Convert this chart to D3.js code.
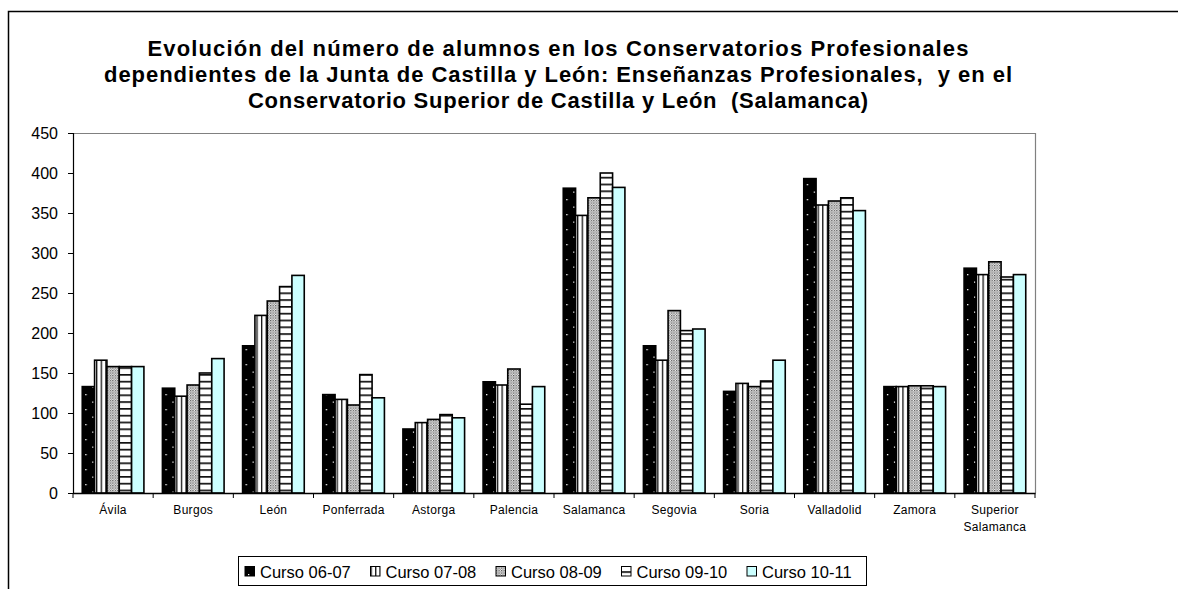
<!DOCTYPE html>
<html>
<head>
<meta charset="utf-8">
<script src="https://cdn.jsdelivr.net/npm/d3@7"></script>
<style>
  body { margin: 0; background: #fff; }
  svg { display: block; font-family: "Liberation Sans", Arial, sans-serif; }
</style>
</head>
<body>
<script>
// data
const categories = ["Ávila", "Burgos", "León", "Ponferrada", "Astorga", "Palencia",
  "Salamanca", "Segovia", "Soria", "Valladolid", "Zamora", "Superior Salamanca"];
const series = ["Curso 06-07", "Curso 07-08", "Curso 08-09", "Curso 09-10", "Curso 10-11"];
const curso0607 = [133, 131, 184, 123, 80, 139, 381, 184, 127, 393, 133, 281];
const curso0708 = [166, 121, 222, 117, 88, 135, 347, 166, 137, 360, 133, 273];
const curso0809 = [158, 135, 240, 110, 92, 155, 369, 228, 133, 365, 134, 289];
const curso0910 = [158, 150, 258, 148, 98, 111, 400, 203, 140, 369, 134, 270];
const curso1011 = [158, 168, 272, 119, 94, 133, 382, 205, 166, 353, 133, 273];
const yTicks = [0, 50, 100, 150, 200, 250, 300, 350, 400, 450];
const titleLines = [
  "Evolución del número de alumnos en los Conservatorios Profesionales",
  "dependientes de la Junta de Castilla y León: Enseñanzas Profesionales,  y en el",
  "Conservatorio Superior de Castilla y León  (Salamanca)"
];

const values = [curso0607, curso0708, curso0809, curso0910, curso1011];
const fills = ["url(#p0607)", "url(#p0708)", "url(#p0809)", "url(#p0910)", "#ccffff"];

const width = 1178, height = 589;
const plotL = 73, plotR = 1035, plotT = 133, plotB = 493;

const svg = d3.select("body").append("svg")
  .attr("width", width)
  .attr("height", height);

// patterns
const defs = svg.append("defs");

let p = defs.append("pattern").attr("id", "p0607")
  .attr("patternUnits", "userSpaceOnUse").attr("width", 14).attr("height", 15);
p.append("rect").attr("width", 14).attr("height", 15).attr("fill", "#000");
p.append("rect").attr("x", 3).attr("y", 4).attr("width", 1.3).attr("height", 1.3).attr("fill", "#fff");
p.append("rect").attr("x", 10).attr("y", 11.5).attr("width", 1.3).attr("height", 1.3).attr("fill", "#fff");

p = defs.append("pattern").attr("id", "p0708")
  .attr("patternUnits", "userSpaceOnUse").attr("width", 4.6).attr("height", 4);
p.append("rect").attr("width", 4.6).attr("height", 4).attr("fill", "#fff");
p.append("rect").attr("x", 0).attr("width", 1.3).attr("height", 4).attr("fill", "#111");

p = defs.append("pattern").attr("id", "p0809")
  .attr("patternUnits", "userSpaceOnUse").attr("width", 2.5).attr("height", 2.5);
p.append("rect").attr("width", 2.5).attr("height", 2.5).attr("fill", "#eee");
p.append("rect").attr("width", 1.25).attr("height", 1.25).attr("fill", "#555");
p.append("rect").attr("x", 1.25).attr("y", 1.25).attr("width", 1.25).attr("height", 1.25).attr("fill", "#999");

p = defs.append("pattern").attr("id", "p0910")
  .attr("patternUnits", "userSpaceOnUse").attr("width", 4).attr("height", 6.8);
p.append("rect").attr("width", 4).attr("height", 6.8).attr("fill", "#fff");
p.append("rect").attr("y", 0).attr("width", 4).attr("height", 1.7).attr("fill", "#111");

// outer frame
svg.append("rect")
  .attr("x", 8.5).attr("y", 11.5)
  .attr("width", 1300).attr("height", 700)
  .attr("fill", "none").attr("stroke", "#000").attr("stroke-width", 1.5);

// title
svg.append("g").selectAll("text")
  .data(titleLines)
  .join("text")
  .attr("x", 558)
  .attr("y", (d, i) => 56 + i * 26)
  .attr("text-anchor", "middle")
  .attr("font-weight", "bold")
  .attr("font-size", 22)
  .style("white-space", "pre")
  .attr("textLength", (d, i) => [821, 908, 620][i])
  .attr("lengthAdjust", "spacing")
  .text(d => d);

// scales
const pad = 1.5 / 6.5;
const x0 = d3.scaleBand().domain(categories).range([plotL, plotR])
  .paddingInner(pad).paddingOuter(pad / 2);
const x1 = d3.scaleBand().domain(series).range([0, x0.bandwidth()]);
const y = d3.scaleLinear().domain([0, 450]).range([plotB, plotT]);

// plot area border (top and right)
svg.append("path")
  .attr("d", `M${plotL},${plotT + 0.5}H${plotR + 0.5}V${plotB}`)
  .attr("fill", "none").attr("stroke", "#808080").attr("stroke-width", 1.2);

// bars
const groups = svg.append("g").selectAll("g")
  .data(categories)
  .join("g")
  .attr("transform", d => `translate(${x0(d)},0)`);

groups.selectAll("rect")
  .data((c, ci) => series.map((s, si) => ({ s, si, v: values[si][ci] })))
  .join("rect")
  .attr("x", d => x1(d.s))
  .attr("y", d => y(d.v))
  .attr("width", x1.bandwidth())
  .attr("height", d => plotB - y(d.v))
  .attr("fill", d => fills[d.si])
  .attr("stroke", "#000")
  .attr("stroke-width", 1.6);

// y axis
const yAxis = svg.append("g")
  .attr("transform", `translate(${plotL},0)`)
  .call(d3.axisLeft(y).tickValues(yTicks).tickSize(5).tickPadding(10));
yAxis.select(".domain").attr("stroke", "#000").attr("stroke-width", 1.2);
yAxis.selectAll("line").attr("stroke", "#000");
yAxis.selectAll("text").attr("font-size", 16).attr("font-family", "Liberation Sans, Arial, sans-serif").attr("fill", "#000");

// x axis line and boundary ticks
const step = x0.step();
const xg = svg.append("g");
xg.append("line")
  .attr("x1", plotL).attr("x2", plotR + 0.5)
  .attr("y1", plotB + 0.5).attr("y2", plotB + 0.5)
  .attr("stroke", "#000").attr("stroke-width", 1.3);
xg.selectAll(".bt")
  .data(d3.range(categories.length + 1))
  .join("line")
  .attr("x1", i => plotL + i * step).attr("x2", i => plotL + i * step)
  .attr("y1", plotB).attr("y2", plotB + 5)
  .attr("stroke", "#000");

xg.selectAll(".xl")
  .data(categories)
  .join("text")
  .attr("x", d => x0(d) + x0.bandwidth() / 2)
  .attr("y", 514)
  .attr("text-anchor", "middle")
  .attr("font-size", 12)
  .attr("letter-spacing", 0.3)
  .each(function (d) {
    const words = d === "Superior Salamanca" ? ["Superior", "Salamanca"] : [d];
    d3.select(this).selectAll("tspan")
      .data(words)
      .join("tspan")
      .attr("x", x0(d) + x0.bandwidth() / 2)
      .attr("dy", (w, i) => i === 0 ? 0 : 17)
      .text(w => w);
  });

// legend
const legend = svg.append("g");
legend.append("rect")
  .attr("x", 238.5).attr("y", 556.5)
  .attr("width", 628).attr("height", 29)
  .attr("fill", "#fff").attr("stroke", "#000").attr("stroke-width", 1);

const lx = d3.scalePoint().domain(series).range([245, 747]);
const items = legend.selectAll(".item")
  .data(series)
  .join("g")
  .attr("transform", d => `translate(${lx(d)},0)`);
items.append("rect")
  .attr("y", 566.5)
  .attr("width", 9.5).attr("height", 9.5)
  .attr("fill", (d, i) => fills[i])
  .attr("stroke", "#000").attr("stroke-width", 1);
items.append("text")
  .attr("x", 15).attr("y", 577.5)
  .attr("font-size", 16.5)
  .text(d => d);
</script>
</body>
</html>
